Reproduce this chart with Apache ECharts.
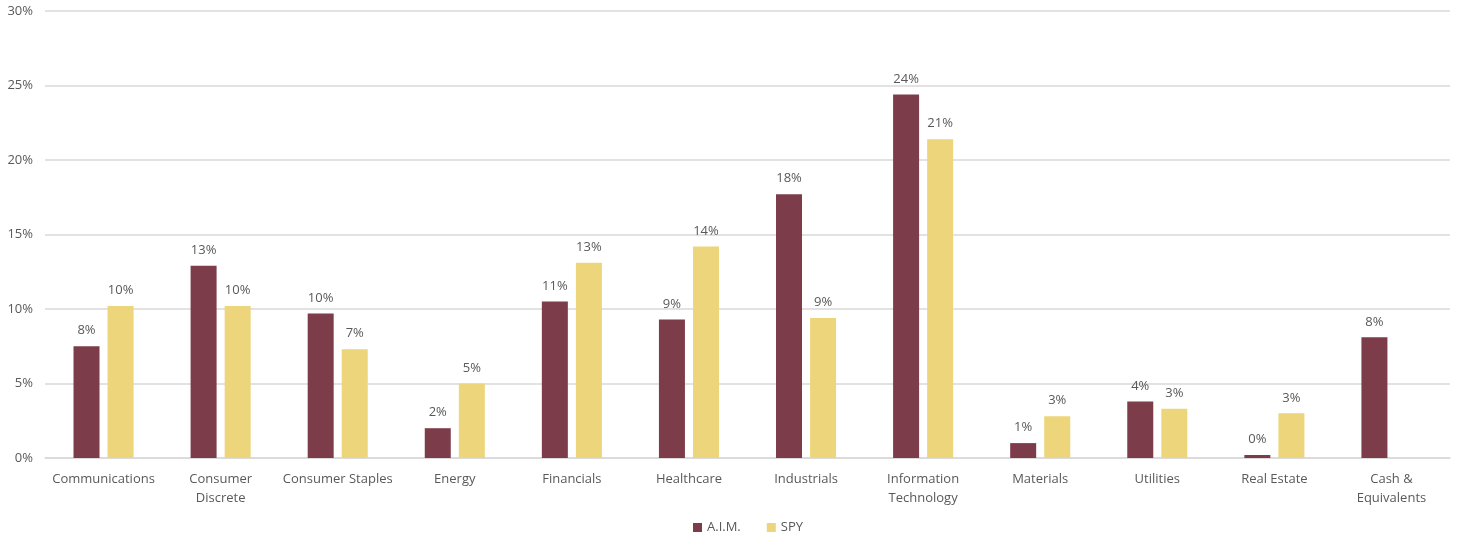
<!DOCTYPE html>
<html><head><meta charset="utf-8">
<script src="https://cdn.jsdelivr.net/npm/echarts@6/dist/echarts.min.js"></script>
<style>html,body{margin:0;padding:0;background:#fff}#c{width:1458px;height:539px}</style>
</head><body><div id="c"></div>
<script>
const categories = ["Communications","Consumer\nDiscrete","Consumer Staples","Energy","Financials","Healthcare","Industrials","Information\nTechnology","Materials","Utilities","Real Estate","Cash &\nEquivalents"];
const aimValues = [7.5, 12.9, 9.7, 2.0, 10.5, 9.3, 17.7, 24.4, 1.0, 3.8, 0.2, 8.1];
const spyValues = [10.2, 10.2, 7.3, 5.0, 13.1, 14.2, 9.4, 21.4, 2.8, 3.3, 3.0, null];
const yTicks = {min: 0, max: 30, interval: 5};

const font = "'Open Sans', 'Liberation Sans', sans-serif";
const txt = '#595959';
const chart = echarts.init(document.getElementById('c'));
const lbl = {show: true, position: 'top', distance: 9, color: txt, fontFamily: font, fontSize: 13,
  formatter: p => p.value == null ? '' : Math.round(p.value) + '%'};
chart.setOption({
  animation: false,
  grid: {left: 45, right: 8, top: 11, bottom: 81},
  legend: {bottom: 0, left: 688, itemWidth: 9, itemHeight: 9, itemGap: 26, icon: 'rect',
    textStyle: {color: txt, fontFamily: font, fontSize: 13}},
  xAxis: {type: 'category', data: categories,
    axisLine: {lineStyle: {color: '#d9d9d9', width: 1.5}}, axisTick: {show: false},
    axisLabel: {color: txt, fontFamily: font, fontSize: 13, interval: 0, margin: 12, lineHeight: 19}},
  yAxis: {type: 'value', min: yTicks.min, max: yTicks.max, interval: yTicks.interval,
    axisLine: {show: false}, axisTick: {show: false},
    splitLine: {lineStyle: {color: '#d9d9d9', width: 1.5}},
    axisLabel: {color: txt, fontFamily: font, fontSize: 13, margin: 12, formatter: v => v + '%'}},
  series: [
    {name: 'A.I.M.', type: 'bar', data: aimValues, barWidth: 26, barGap: '31%',
     itemStyle: {color: '#7D3C4A'}, label: lbl},
    {name: 'SPY', type: 'bar', data: spyValues, barWidth: 26,
     itemStyle: {color: '#ECD57A'}, label: lbl}
  ]
});
</script></body></html>
